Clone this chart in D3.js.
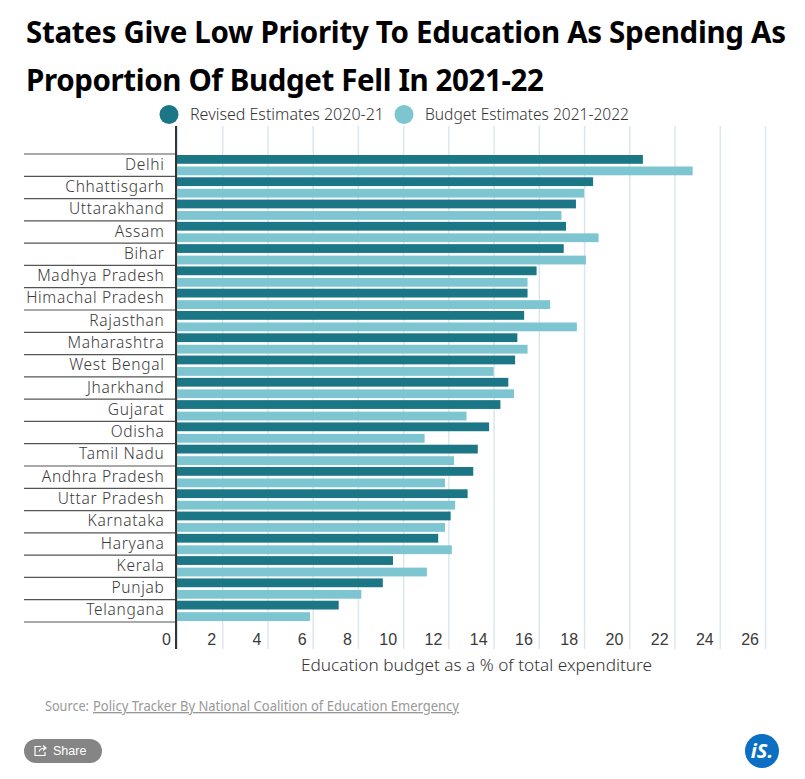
<!DOCTYPE html>
<html lang="en">
<head>
<meta charset="UTF-8">
<title>States Give Low Priority To Education</title>
<style>
    * { margin:0; border:0; box-sizing:border-box; }
    html, body { background:#fff; overflow:hidden; }
    svg { display:block; font-family:"Noto Sans",sans-serif; }
    .cat { font-size:15.5px; fill:#3a3a3a; letter-spacing:0.7px; font-weight:300; }
    .tick text { font-size:16px; fill:#3a3a3a; font-weight:300; }
</style>
<script src="https://unpkg.com/d3@7.6.1/dist/d3.min.js"></script>
</head>
<body>
<div id="chart"></div>
<script>
const states=["Delhi","Chhattisgarh","Uttarakhand","Assam","Bihar","Madhya Pradesh","Himachal Pradesh","Rajasthan","Maharashtra","West Bengal","Jharkhand","Gujarat","Odisha","Tamil Nadu","Andhra Pradesh","Uttar Pradesh","Karnataka","Haryana","Kerala","Punjab","Telangana"];
const revised=[20.6,18.4,17.64,17.2,17.1,15.9,15.5,15.35,15.05,14.95,14.65,14.3,13.8,13.3,13.1,12.85,12.1,11.55,9.55,9.1,7.15];
const budget=[22.8,18.0,17.0,18.64,18.08,15.5,16.5,17.68,15.5,14.0,14.9,12.8,10.95,12.25,11.85,12.3,11.85,12.15,11.05,8.15,5.88];
const seriesNames=["Revised Estimates 2020-21","Budget Estimates 2021-2022"];
const colors=["#1b7686","#7cc5d1"];
const xTicks=[0,2,4,6,8,10,12,14,16,18,20,22,24,26];

const width=805, height=779;
const marginLeft=177, gridTop=126, gridBottom=649;

const x=d3.scaleLinear([0,26],[marginLeft,765]);
const y=d3.scaleBand(states,[154,622]);
const inner=d3.scaleBand([0,1],[0,y.bandwidth()]).paddingInner(0.235).paddingOuter(0.0875);

const svg=d3.select("#chart").append("svg")
    .attr("width",width)
    .attr("height",height);

// title, squeezed with letter spacing to the reference width
const titleWidths=[760,518];
svg.selectAll(".title")
    .data(["States Give Low Priority To Education As Spending As","Proportion Of Budget Fell In 2021-22"])
    .join("text")
    .attr("class","title")
    .attr("x",26)
    .attr("y",(d,i)=>43+i*48)
    .attr("font-size",29.5)
    .attr("font-weight",700)
    .attr("fill","#000")
    .text(d=>d)
    .each(function(d,i){
        const natural=this.getComputedTextLength();
        this.setAttribute("letter-spacing",(titleWidths[i]-natural)/(d.length-1));
    });

// legend
const legendX=[169,404], legendTextX=[190,425], legendW=[194,204];
seriesNames.forEach((s,i)=>{
    svg.append("circle").attr("cx",legendX[i]).attr("cy",114.5).attr("r",9.5).attr("fill",colors[i]);
    svg.append("text").attr("x",legendTextX[i]).attr("y",120)
        .attr("textLength",legendW[i]).attr("lengthAdjust","spacingAndGlyphs")
        .attr("font-size",15.5).attr("font-weight",300).attr("fill","#333").text(s);
});

// x axis and grid
const xAxis=d3.axisBottom(x).tickValues(xTicks).tickSize(0).tickPadding(0);
svg.append("g")
    .attr("transform",`translate(0,${gridBottom})`)
    .call(xAxis)
    .call(g=>g.select(".domain").remove())
    .call(g=>g.selectAll(".tick text")
        .attr("text-anchor","end")
        .attr("x",-6.5)
        .attr("y",-4)
        .attr("dy",0))
    .call(g=>g.selectAll(".tick line")
        .attr("y2",gridTop-gridBottom)
        .attr("stroke","#dde6ec")
        .attr("stroke-width",1.5));

// category rules
svg.append("g")
    .selectAll("line")
    .data([...states,"end"])
    .join("line")
    .attr("x1",24)
    .attr("x2",marginLeft)
    .attr("y1",(d,i)=>i<states.length?y(d):y.range()[1])
    .attr("y2",(d,i)=>i<states.length?y(d):y.range()[1])
    .attr("stroke","#555")
    .attr("stroke-width",1.2);

svg.append("g")
    .selectAll("text")
    .data(states)
    .join("text")
    .attr("class","cat")
    .attr("x",164.5)
    .attr("y",d=>y(d)+y.bandwidth()/2+4.5)
    .attr("text-anchor","end")
    .text(d=>d);

// bars
[revised,budget].forEach((vals,k)=>{
    svg.append("g")
        .attr("fill",colors[k])
        .selectAll("rect")
        .data(vals)
        .join("rect")
        .attr("x",x(0))
        .attr("y",(d,i)=>y(states[i])+inner(k))
        .attr("width",d=>x(d)-x(0))
        .attr("height",inner.bandwidth());
});

// y axis line
svg.append("line")
    .attr("x1",176).attr("x2",176)
    .attr("y1",gridTop).attr("y2",gridBottom)
    .attr("stroke","#333").attr("stroke-width",2);

svg.append("text")
    .attr("x",301).attr("y",671)
    .attr("textLength",351).attr("lengthAdjust","spacingAndGlyphs")
    .attr("font-size",15.5).attr("font-weight",300).attr("fill","#333")
    .text("Education budget as a % of total expenditure");

// source
const src=svg.append("text").attr("y",711).attr("font-size",13.5).attr("fill","#999");
src.append("tspan").attr("x",45).attr("textLength",44).attr("lengthAdjust","spacingAndGlyphs").text("Source:");
src.append("tspan").attr("x",93).attr("textLength",366).attr("lengthAdjust","spacingAndGlyphs")
    .attr("text-decoration","underline").text("Policy Tracker By National Coalition of Education Emergency");

// share button
svg.append("rect").attr("x",24).attr("y",739).attr("width",78).attr("height",24).attr("rx",12).attr("fill","#858585");
svg.append("path")
    .attr("d","M41 746.5h-6v9h10v-3.5M39 751.5c1-2.5 3-3.5 6-3.5m-2-2.5l3 2.5-3 2.5")
    .attr("fill","none").attr("stroke","#fff").attr("stroke-width",1.2);
svg.append("text").attr("x",53).attr("y",755).attr("font-size",12.5)
    .attr("font-family","Liberation Sans").attr("fill","#fff").text("Share");

// logo
svg.append("circle").attr("cx",762).attr("cy",751).attr("r",17).attr("fill","#0b6fc4");
svg.append("text").attr("x",762).attr("y",757.5).attr("text-anchor","middle")
    .attr("font-size",20).attr("font-weight",700).attr("font-style","italic")
    .attr("fill","#fff").text("iS.");
</script>
</body>
</html>
